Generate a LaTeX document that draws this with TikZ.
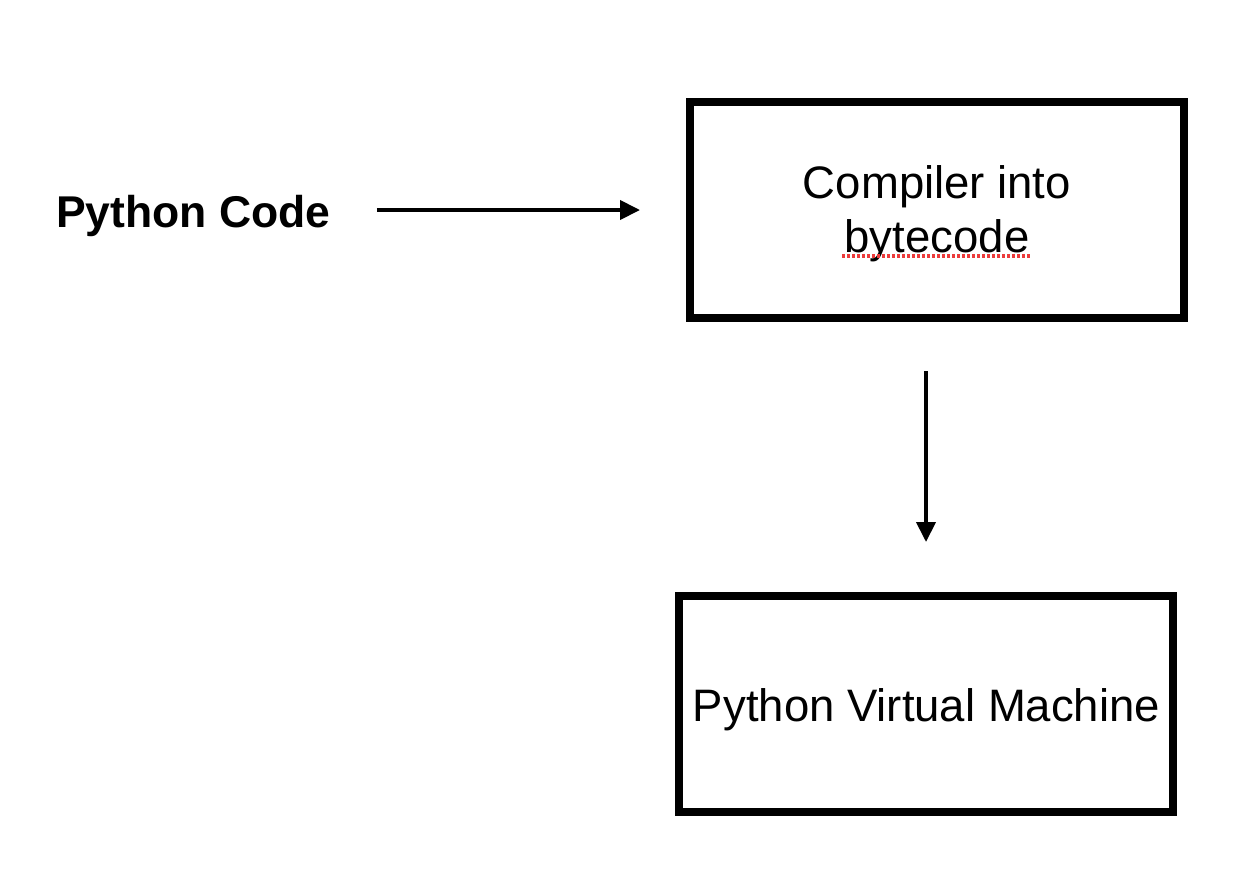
\documentclass[tikz,border=0pt]{standalone}
\usepackage{fontspec}
\setmainfont{Liberation Sans}
\usetikzlibrary{arrows.meta}
\definecolor{spellred}{RGB}{235,60,60}
\tikzset{
  box/.style={draw=black, line width=8pt, minimum width=494pt, minimum height=216pt, inner sep=0pt},
  txt/.style={inner sep=0pt, font=\fontsize{45.5}{54}\selectfont, align=center},
  arrow/.style={line width=4pt, -{Triangle[length=20pt,width=19pt]}},
  squiggle/.style={spellred, line width=3.5pt, dash pattern=on 3pt off 2pt}
}
\begin{document}
\begin{tikzpicture}[x=1pt,y=-1pt]
\fill[white] (0,0) rectangle (1260,868);
\useasboundingbox (0,0) rectangle (1260,868);
\node[txt, anchor=base, font=\fontsize{44.5}{54}\selectfont\bfseries] (pycode) at (193.5,227) {Python Code};
\node[box] (comp) at (937,210) {};
\node[txt] (comptxt) at (937,214.2) {Compiler into\\bytecode};
\node[box] (pvm) at (926,704) {};
\node[txt, anchor=base] (pvmtxt) at (926.5,721) {Python Virtual Machine};
\draw[arrow, shorten <=46pt, shorten >=46pt] (pycode.east |- comp.west) -- (comp.west);
\draw[arrow, shorten <=49pt, shorten >=50pt] (comp.south -| pvm.north) -- (pvm.north);
\coordinate (sq1) at (842,256);
\coordinate (sq2) at (1031,256);
\draw[squiggle] (sq1) -- (sq2);
\end{tikzpicture}
\end{document}
